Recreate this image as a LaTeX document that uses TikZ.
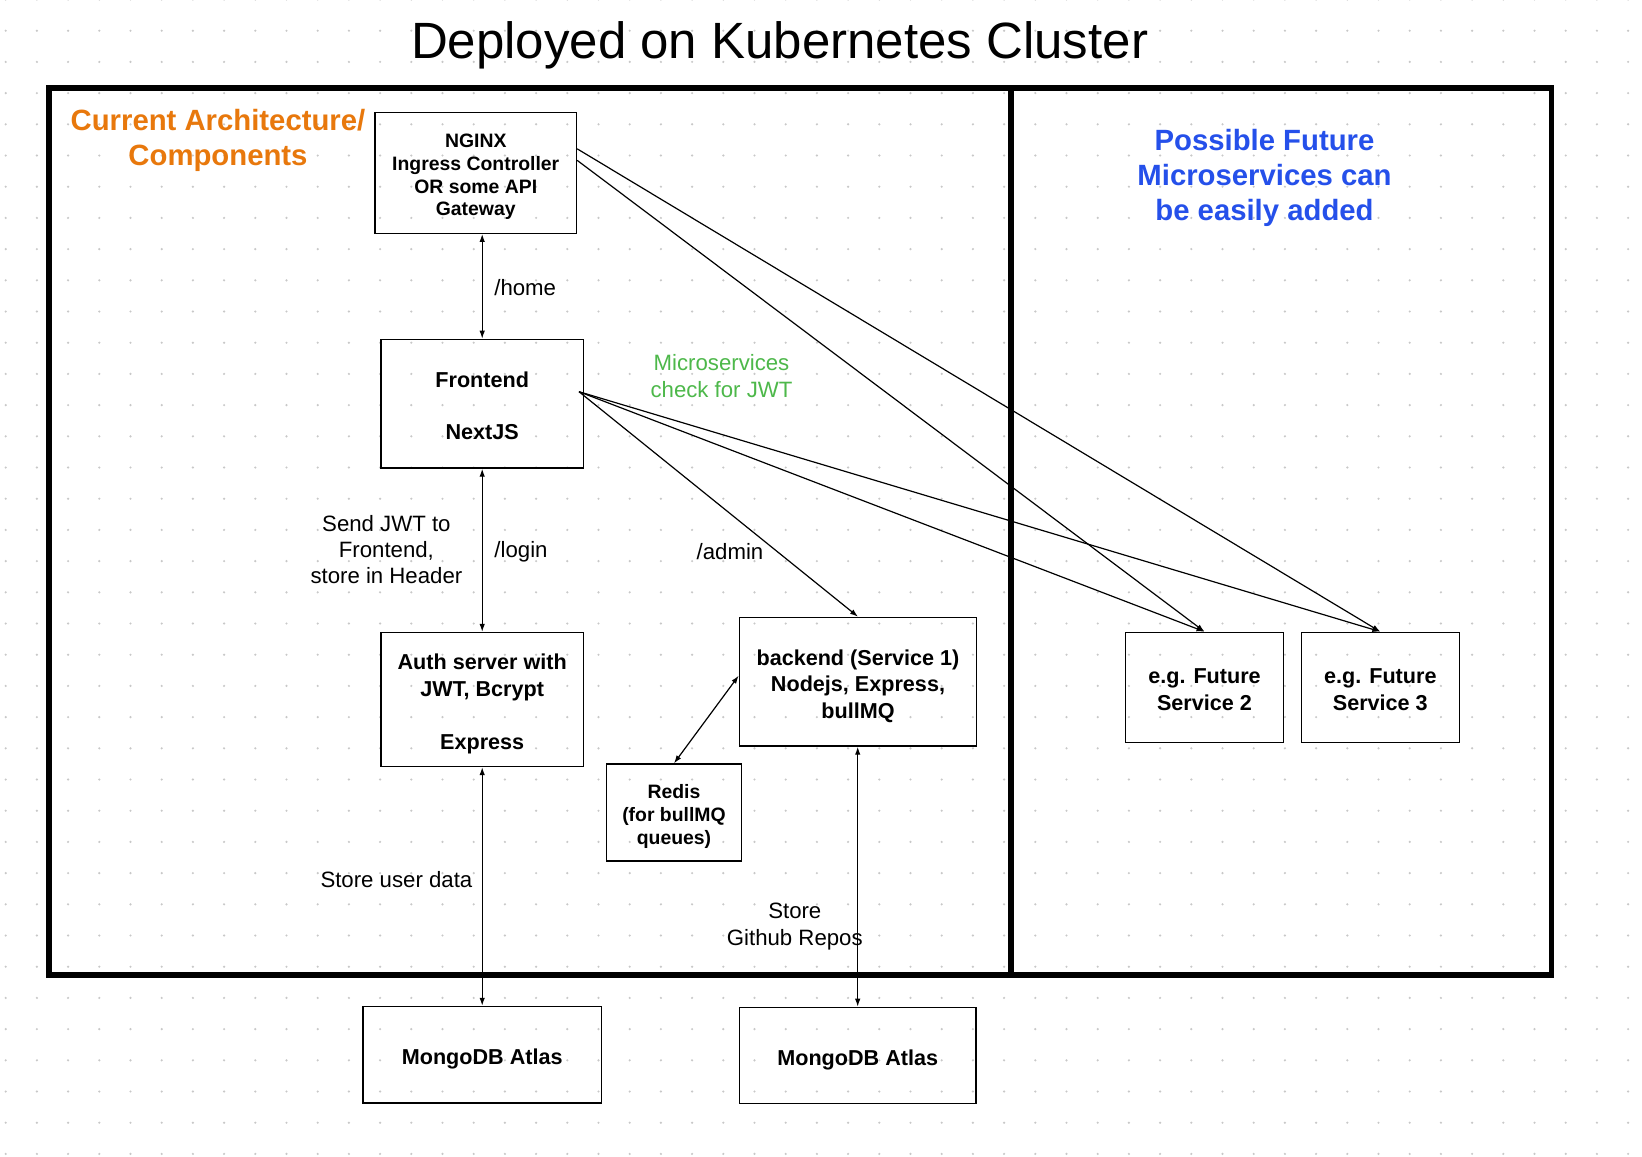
\documentclass[tikz,border=0pt]{standalone}
\usepackage{fontspec}
\setmainfont{Liberation Sans}
\usetikzlibrary{arrows.meta,calc}
\definecolor{archorange}{HTML}{E8780C}
\definecolor{futblue}{HTML}{2550EA}
\definecolor{jwtgreen}{HTML}{4DB84A}
\definecolor{griddot}{HTML}{C8C8C8}
\newcommand\myTitleFont{\fontsize{51}{60}\selectfont}
\newcommand\myHeadFont{\fontsize{29.3}{35}\selectfont\bfseries}
\newcommand\myLabelFont{\fontsize{22.2}{26.2}\selectfont}
\newcommand\myBoxFont{\fontsize{21.6}{26.5}\selectfont\bfseries}
\newcommand\mySmallBoxFont{\fontsize{19.4}{22.8}\selectfont\bfseries}
% struts: box texts (tS/bS) and free texts (tL/bL)
\newcommand\tS{\rule{0pt}{1.216em}}
\newcommand\bS{\rule[-0.3em]{0pt}{0.3em}}
\newcommand\tL{\rule{0pt}{1em}}
\newcommand\bL{\rule[-0.284em]{0pt}{0.284em}}
\begin{document}
\begin{tikzpicture}[x=1pt,y=-1pt,
  box/.style={draw=black,line width=1.3pt,inner sep=0pt,align=center,font=\myBoxFont},
  smallbox/.style={box,font=\mySmallBoxFont},
  lbl/.style={inner sep=0pt,align=center,font=\myLabelFont},
  head/.style={inner sep=0pt,align=center,font=\myHeadFont},
  arr/.style={line width=1.2pt,-{Latex[length=8pt,width=5.5pt]}},
  biarrow/.style={line width=1.2pt,{Latex[length=8pt,width=5.5pt]}-{Latex[length=8pt,width=5.5pt]}}]
\useasboundingbox (0,0) rectangle (1642,1157);
\fill[white] (0,0) rectangle (1642,1157);
% dot grid
\foreach \i in {0,...,52}{
  \foreach \j in {0,...,37}{
    \fill[griddot] ({5.7+31.2*\i},{-0.5+31.2*\j}) circle (1.2pt);
  }
}
% title
\node[inner sep=0pt,anchor=base,font=\myTitleFont] (title) at (779.6,58.3) {Deployed on Kubernetes Cluster};
% cluster frame
\draw[line width=5.7pt] (48.8,87.8) rectangle (1551.5,975);
\draw[line width=5.7pt] (1011.2,87.8) -- (1011.2,975);
% headings
\node[head,text=archorange] (cur) at (218,138) {\tL Current Architecture/\\Components\bL};
\node[head,text=futblue] (fut) at (1264.5,175) {\tL Possible Future\\Microservices can\\be easily added\bL};
% boxes
\node[smallbox,minimum width=201.5pt,minimum height=121pt] (nginx) at (475.75,172.8) {\tS NGINX\\Ingress Controller\\OR some API\\Gateway\bS};
\node[box,minimum width=202.3pt,minimum height=128.7pt] (front) at (482.2,403.7) {\tS Frontend\\[26pt]NextJS\bS};
\node[box,minimum width=202.3pt,minimum height=134pt] (auth) at (482.2,699.5) {\tS Auth server with\\JWT, Bcrypt\\[26.5pt]Express\bS};
\node[box,minimum width=237.4pt,minimum height=128.7pt] (backend) at (858,681.7) {\tS backend (Service 1)\\Nodejs, Express,\\bullMQ\bS};
\node[smallbox,minimum width=135.4pt,minimum height=97pt] (redis) at (674,812.5) {\tS Redis\\(for bullMQ\\queues)\bS};
\node[box,minimum width=157.6pt,minimum height=110pt] (fs2) at (1204.5,687.3) {\tS e.g. Future\\Service 2\bS};
\node[box,minimum width=158pt,minimum height=110pt] (fs3) at (1380.3,687.3) {\tS e.g. Future\\Service 3\bS};
\node[box,minimum width=238.5pt,minimum height=96.6pt] (mongo1) at (482.2,1054.7) {\tS MongoDB Atlas\bS};
\node[box,minimum width=236.7pt,minimum height=96.3pt] (mongo2) at (857.7,1055.5) {\tS MongoDB Atlas\bS};
% labels
\node[lbl] (home) at (525.2,288) {\tL/home\bL};
\node[lbl] (login) at (521,549.5) {\tL/login\bL};
\node[lbl] (admin) at (730,552) {\tL/admin\bL};
\node[lbl] (sendjwt) at (386.4,549.7) {\tL Send JWT to\\Frontend,\\store in Header\bL};
\node[lbl,text=jwtgreen] (check) at (721.5,376) {\tL Microservices\\check for JWT\bL};
\node[lbl] (storeuser) at (396.4,879.6) {\tL Store user data\bL};
\node[lbl] (storerepo) at (794.8,924) {\tL Store\\Github Repos\bL};
% connectors
\draw[biarrow] (front.north) -- (front.north |- nginx.south);
\draw[biarrow] (auth.north) -- (auth.north |- front.south);
\draw[biarrow] (mongo1.north) -- (mongo1.north |- auth.south);
\draw[biarrow] (mongo2.north) -- (mongo2.north |- backend.south);
\draw[biarrow] (redis.north) -- ([yshift=6pt]backend.west);
\draw[arr] ([xshift=-5pt,yshift=12pt]front.east) -- (backend.north);
\draw[arr] ([xshift=-5pt,yshift=12pt]front.east) -- (fs2.north);
\draw[arr] ([xshift=-5pt,yshift=12pt]front.east) -- (fs3.north);
\draw[arr] ([yshift=24pt]nginx.east) -- (fs3.north);
\draw[arr] ([yshift=12.5pt]nginx.east) -- (fs2.north);
\end{tikzpicture}
\end{document}
